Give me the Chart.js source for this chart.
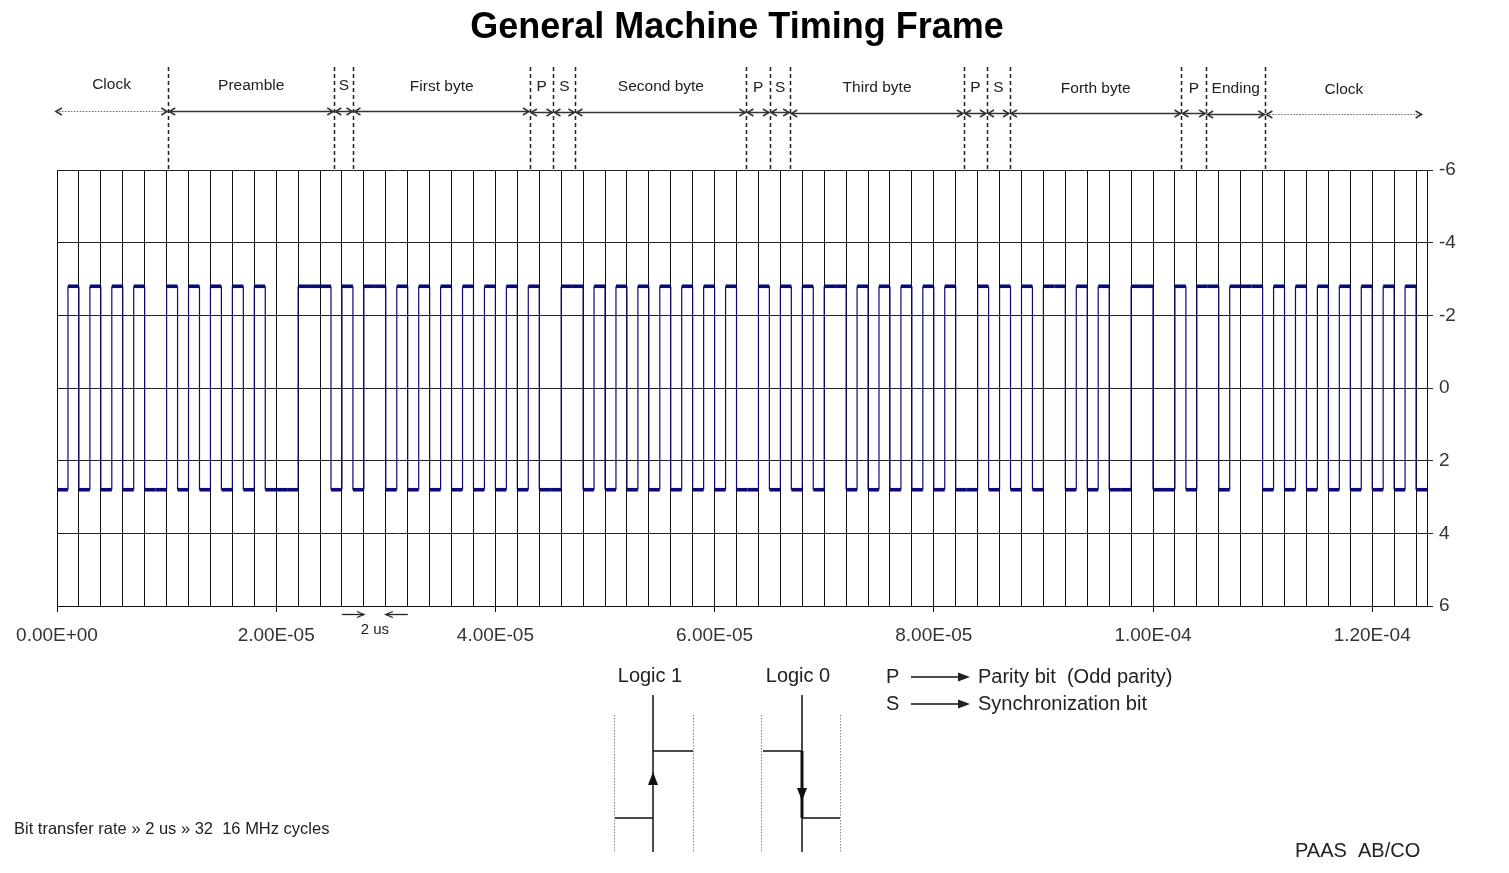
<!DOCTYPE html>
<html>
<head>
<meta charset="utf-8">
<title>General Machine Timing Frame</title>
<script src="https://cdn.jsdelivr.net/npm/chart.js"></script>
<style>
  html, body { margin: 0; padding: 0; background: #fff; }
  #wrap { width: 1509px; height: 873px; }
</style>
</head>
<body>
<div id="wrap"><canvas id="timingChart" width="1509" height="873"></canvas></div>
<script>
// levels of the scope trace (volts, the axis is drawn upside down)
const level_top = -2.8;
const level_bottom = 2.8;

// one entry per microsecond (= half a bit), 1 = upper level, 0 = lower level
const half_bits = [
  0,1,0,1,0,1,0,1,0,0,  1,0,1,0,1,0,1,0,1,0,
  0,0,1,1,1,0,1,0,1,1,  0,1,0,1,0,1,0,1,0,1,
  0,1,0,1,0,0,1,1,0,1,  0,1,0,1,0,1,0,1,0,1,
  0,1,0,0,1,0,1,0,1,0,  1,1,0,1,0,1,0,1,0,1,
  0,1,0,0,1,0,1,0,1,0,  1,1,0,1,0,1,0,0,1,1,
  0,0,1,0,1,1,0,1,1,1,  0,1,0,1,0,1,0,1,0,1,
  0,1,0,1,0
];

// frame parts above the plot, boundaries in microseconds
const frame_start = -0.2;
const frame_marks = [10.15, 25.3, 27.05, 43.15, 45.3, 47.3, 62.9, 65.05, 66.9,
                     82.75, 84.85, 86.95, 102.6, 104.85, 110.25];
const frame_end = 124.6;
const frame_labels = ['Clock', 'Preamble', 'S', 'First byte', 'P', 'S', 'Second byte',
                      'P', 'S', 'Third byte', 'P', 'S', 'Forth byte', 'P', 'Ending', 'Clock'];

// axes (x in microseconds)
const x_tick_values = [0, 20, 40, 60, 80, 100, 120];
const x_tick_labels = ['0.00E+00', '2.00E-05', '4.00E-05', '6.00E-05', '8.00E-05', '1.00E-04', '1.20E-04'];
const x_grid_step = 2;
const x_max = 125;
const y_ticks = [-6, -4, -2, 0, 2, 4, 6];

// "2 us" marker under the axis
const bit_marker = [28, 30];

const FONT = "'Liberation Sans', Arial, Helvetica, sans-serif";

// build the step trace
let trace = [];
for (let i = 0; i < half_bits.length; i++) {
    let v = half_bits[i] ? level_top : level_bottom;
    trace.push({ x: i, y: v });
    trace.push({ x: i + 1, y: v });
}

function openHead(ctx, x, y, dir, len, half) {
    ctx.beginPath();
    ctx.moveTo(x - dir * len, y - half);
    ctx.lineTo(x, y);
    ctx.lineTo(x - dir * len, y + half);
    ctx.stroke();
}

function filledHead(ctx, x, y, dx, dy, len, half) {
    let bx = x - dx * len, by = y - dy * len;
    ctx.beginPath();
    ctx.moveTo(x, y);
    ctx.lineTo(bx - dy * half, by + dx * half);
    ctx.lineTo(bx + dy * half, by - dx * half);
    ctx.closePath();
    ctx.fill();
}

function line(ctx, x1, y1, x2, y2) {
    ctx.beginPath();
    ctx.moveTo(x1, y1);
    ctx.lineTo(x2, y2);
    ctx.stroke();
}

const decorations = {
    id: 'decorations',
    afterDraw(chart) {
        const ctx = chart.ctx;
        const xs = chart.scales.x;
        const area = chart.chartArea;
        ctx.save();

        // title
        ctx.fillStyle = '#000';
        ctx.font = 'bold 36px ' + FONT;
        ctx.textAlign = 'center';
        ctx.textBaseline = 'alphabetic';
        ctx.fillText('General Machine Timing Frame', 737, 38);

        // dashed separators
        ctx.strokeStyle = '#222';
        ctx.lineWidth = 1.5;
        ctx.setLineDash([4, 3]);
        frame_marks.forEach(m => {
            let px = Math.round(xs.getPixelForValue(m)) + 0.5;
            line(ctx, px, 67, px, area.top);
        });
        ctx.setLineDash([]);

        // arrows + names of each part
        let bounds = [frame_start].concat(frame_marks, [frame_end]);
        ctx.font = '15.5px ' + FONT;
        ctx.textBaseline = 'middle';
        ctx.fillStyle = '#222';
        for (let k = 0; k < frame_labels.length; k++) {
            let x1 = xs.getPixelForValue(bounds[k]);
            let x2 = xs.getPixelForValue(bounds[k + 1]);
            let xm = (x1 + x2) / 2;
            let f = (xm - area.left) / area.width;
            let ay = Math.round(110.5 + f * 3.5) + 0.5;
            if (frame_labels[k] === 'Clock') {
                ctx.strokeStyle = '#666';
                ctx.lineWidth = 1;
                ctx.setLineDash([1.5, 1.5]);
                line(ctx, x1 + 1, ay, x2 - 1, ay);
                ctx.setLineDash([]);
                ctx.strokeStyle = '#333';
            } else {
                ctx.strokeStyle = '#333';
                ctx.lineWidth = 1.5;
                line(ctx, x1 + 1, ay, x2 - 1, ay);
            }
            ctx.lineWidth = 1.5;
            openHead(ctx, x1 + 1, ay, -1, 6, 3.5);
            openHead(ctx, x2 - 1, ay, 1, 6, 3.5);
            ctx.fillText(frame_labels[k], xm, 85 + f * 4.5);
        }

        // 2 us marker
        let m1 = xs.getPixelForValue(bit_marker[0]);
        let m2 = xs.getPixelForValue(bit_marker[1]);
        ctx.strokeStyle = '#222';
        ctx.lineWidth = 1.3;
        line(ctx, m1 - 22, 614.5, m1, 614.5);
        openHead(ctx, m1, 614.5, 1, 7, 3);
        line(ctx, m2 + 22, 614.5, m2, 614.5);
        openHead(ctx, m2, 614.5, -1, 7, 3);
        ctx.font = '15px ' + FONT;
        ctx.fillStyle = '#222';
        ctx.fillText('2 us', (m1 + m2) / 2, 630);

        // logic 1 / logic 0 sketches
        ctx.font = '20px ' + FONT;
        ctx.fillStyle = '#222';
        ctx.fillText('Logic 1', 650, 676);
        ctx.fillText('Logic 0', 798, 676);

        ctx.strokeStyle = '#888';
        ctx.lineWidth = 1;
        ctx.setLineDash([1.5, 1.5]);
        [614.5, 693.5, 761.5, 840.5].forEach(px => line(ctx, px, 715, px, 852));
        ctx.setLineDash([]);

        ctx.strokeStyle = '#111';
        ctx.fillStyle = '#111';
        ctx.lineWidth = 1.5;
        line(ctx, 653, 695, 653, 852);
        line(ctx, 615, 818, 653, 818);
        line(ctx, 653, 751, 693, 751);
        filledHead(ctx, 653, 772, 0, -1, 13, 5);

        line(ctx, 802, 695, 802, 852);
        line(ctx, 763, 751, 802, 751);
        line(ctx, 802, 818, 840, 818);
        ctx.lineWidth = 3;
        line(ctx, 802, 751, 802, 818);
        filledHead(ctx, 802, 801, 0, 1, 13, 5);

        // P / S legend
        ctx.lineWidth = 1.5;
        ctx.textAlign = 'left';
        ctx.fillStyle = '#222';
        ctx.fillText('P', 886, 677);
        ctx.fillText('S', 886, 704);
        line(ctx, 911, 677, 960, 677);
        line(ctx, 911, 704, 960, 704);
        filledHead(ctx, 970, 677, 1, 0, 12, 4.5);
        filledHead(ctx, 970, 704, 1, 0, 12, 4.5);
        ctx.fillText('Parity bit  (Odd parity)', 978, 677);
        ctx.fillText('Synchronization bit', 978, 704);

        // footers
        ctx.font = '16.5px ' + FONT;
        ctx.fillText('Bit transfer rate \u00bb 2 us \u00bb 32  16 MHz cycles', 14, 829);
        ctx.font = '20px ' + FONT;
        ctx.fillText('PAAS  AB/CO', 1295, 851);

        ctx.restore();
    }
};

const ctx = document.getElementById('timingChart').getContext('2d');
const timingChart = new Chart(ctx, {
    type: 'line',
    data: {
        datasets: [{
            label: 'Timing frame',
            data: trace,
            borderColor: '#0a0a78',
            borderWidth: 3,
            pointRadius: 0,
            tension: 0,
            fill: false,
            segment: {
                borderWidth: c => (c.p0.parsed.x === c.p1.parsed.x ? 1.2 : 3.6)
            }
        }]
    },
    options: {
        responsive: false,
        animation: false,
        layout: { padding: { top: 170, left: 57, right: 0, bottom: 0 } },
        plugins: {
            legend: { display: false },
            tooltip: { enabled: false },
            title: { display: false }
        },
        scales: {
            x: {
                type: 'linear',
                min: 0,
                max: x_max,
                afterBuildTicks: scale => {
                    let t = [];
                    for (let v = 0; v < x_max; v += x_grid_step) t.push({ value: v });
                    t.push({ value: x_max });
                    scale.ticks = t;
                },
                afterFit: scale => { scale.height = 873 - 606; },
                ticks: {
                    autoSkip: false,
                    maxRotation: 0,
                    padding: 12,
                    color: '#333',
                    font: { family: FONT, size: 19 },
                    callback: v => {
                        let k = x_tick_values.indexOf(v);
                        return k >= 0 ? x_tick_labels[k] : '';
                    }
                },
                grid: {
                    color: '#111',
                    lineWidth: 1,
                    tickLength: 6,
                    tickColor: c => (c.tick && x_tick_values.includes(c.tick.value)) ? '#111' : 'rgba(0,0,0,0)'
                },
                border: { color: '#111', width: 1 }
            },
            y: {
                type: 'linear',
                position: 'right',
                reverse: true,
                min: -6,
                max: 6,
                afterBuildTicks: scale => { scale.ticks = y_ticks.map(v => ({ value: v })); },
                afterFit: scale => { scale.width = 1509 - 1427; },
                ticks: {
                    padding: 6,
                    color: '#333',
                    font: { family: FONT, size: 19 },
                    callback: v => String(v)
                },
                grid: { color: '#222', lineWidth: 1, tickLength: 6 },
                border: { color: '#111', width: 1 }
            }
        }
    },
    plugins: [decorations]
});
</script>
</body>
</html>
